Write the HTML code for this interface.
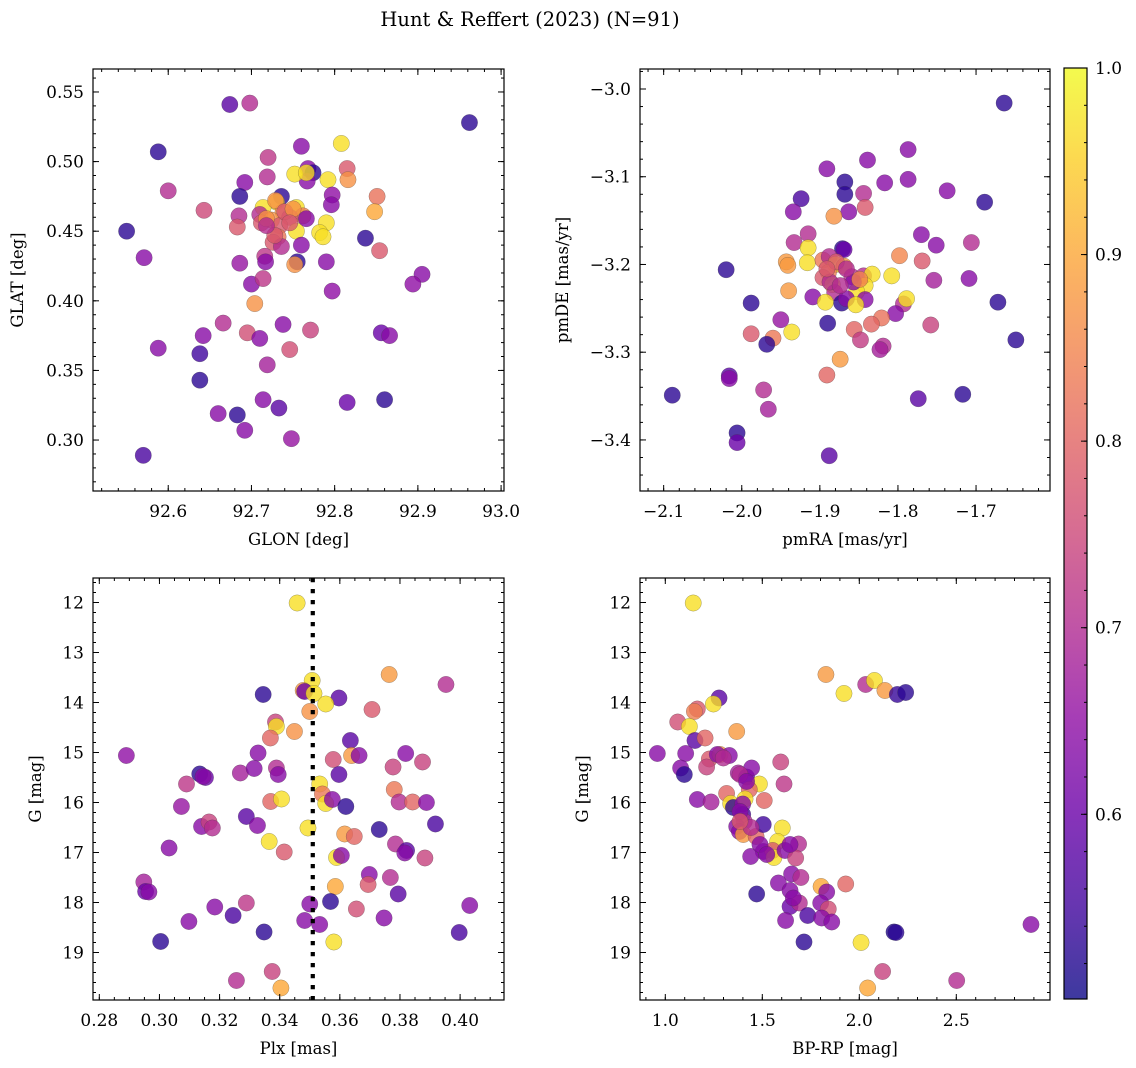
<!DOCTYPE html>
<html><head><meta charset="utf-8"><title>Hunt & Reffert (2023)</title>
<style>
html,body{margin:0;padding:0;background:#fff;}
svg{display:block;font-family:"DejaVu Serif","Liberation Serif",serif;}
</style></head>
<body>
<svg id="fig" width="1136" height="1068" viewBox="0 0 1136 1068" xmlns="http://www.w3.org/2000/svg">
<text x="530" y="26" text-anchor="middle" font-size="19.5">Hunt &amp; Reffert (2023) (N=91)</text>
</svg>
<script>
// ---------- Panel 1: GLON vs GLAT ----------
const glon = [92.674,92.698,92.962,92.588,92.760,92.808,92.720,92.719,92.692,92.768,92.774,92.767,92.752,92.766,92.792,92.815,92.816,92.600,92.686,92.736,92.797,92.796,92.851,92.848,92.730,92.714,92.754,92.710,92.738,92.762,92.746,92.724,92.712,92.685,92.683,92.643,92.734,92.790,92.754,92.782,92.786,92.732,92.726,92.736,92.760,92.550,92.837,92.854,92.571,92.686,92.716,92.717,92.755,92.752,92.790,92.905,92.894,92.700,92.714,92.797,92.704,92.666,92.642,92.695,92.710,92.738,92.771,92.588,92.638,92.746,92.856,92.866,92.719,92.638,92.714,92.733,92.815,92.860,92.660,92.683,92.692,92.748,92.570,92.729,92.740,92.750,92.718,92.746,92.766,92.728,92.718];
const glat = [0.541,0.542,0.528,0.507,0.511,0.513,0.503,0.489,0.485,0.495,0.492,0.486,0.491,0.492,0.487,0.495,0.487,0.479,0.475,0.475,0.476,0.469,0.475,0.464,0.471,0.467,0.467,0.462,0.464,0.461,0.460,0.458,0.456,0.461,0.453,0.465,0.454,0.456,0.450,0.449,0.446,0.446,0.442,0.439,0.440,0.450,0.445,0.436,0.431,0.427,0.432,0.428,0.428,0.426,0.428,0.419,0.412,0.412,0.416,0.407,0.398,0.384,0.375,0.377,0.373,0.383,0.379,0.366,0.362,0.365,0.377,0.375,0.354,0.343,0.329,0.323,0.327,0.329,0.319,0.318,0.307,0.301,0.289,0.472,0.464,0.466,0.459,0.456,0.459,0.447,0.454];
const prob1 = [0.58,0.70,0.53,0.53,0.64,0.97,0.72,0.70,0.64,0.64,0.53,0.64,0.97,0.97,0.97,0.78,0.87,0.70,0.53,0.53,0.65,0.64,0.82,0.90,0.97,0.97,0.97,0.70,0.87,0.84,0.78,0.87,0.78,0.70,0.78,0.75,0.78,0.97,0.97,0.97,0.97,0.83,0.78,0.70,0.64,0.53,0.53,0.78,0.64,0.66,0.72,0.64,0.53,0.87,0.64,0.64,0.65,0.64,0.72,0.65,0.87,0.70,0.64,0.76,0.64,0.64,0.74,0.64,0.55,0.76,0.60,0.64,0.68,0.53,0.64,0.58,0.60,0.53,0.64,0.53,0.64,0.66,0.56,0.87,0.78,0.87,0.87,0.78,0.64,0.78,0.70];
// ---------- Panel 2: pmRA vs pmDE ----------
const pmra = [-1.664,-1.787,-1.839,-1.891,-1.868,-1.817,-1.787,-1.868,-1.844,-1.737,-1.689,-1.924,-1.934,-1.863,-1.842,-1.882,-1.915,-1.933,-1.770,-1.751,-1.706,-1.915,-1.871,-1.869,-2.020,-1.943,-1.941,-1.916,-1.896,-1.888,-1.880,-1.869,-1.798,-1.769,-1.889,-1.896,-1.859,-1.844,-1.833,-1.808,-1.754,-1.709,-1.884,-1.842,-1.940,-1.881,-1.853,-1.988,-1.909,-1.893,-1.872,-1.866,-1.842,-1.854,-1.793,-1.789,-1.672,-1.803,-1.950,-1.890,-1.821,-1.834,-1.856,-1.758,-1.988,-1.936,-1.960,-1.968,-1.848,-1.819,-1.823,-1.649,-1.874,-1.891,-2.016,-2.016,-1.972,-1.966,-2.089,-1.774,-1.717,-2.006,-2.006,-1.888,-1.879,-1.887,-1.857,-1.874,-1.891,-1.849,-1.866];
const pmde = [-3.016,-3.069,-3.081,-3.091,-3.106,-3.107,-3.103,-3.120,-3.119,-3.116,-3.129,-3.125,-3.140,-3.140,-3.135,-3.145,-3.165,-3.175,-3.166,-3.178,-3.175,-3.181,-3.182,-3.183,-3.206,-3.197,-3.201,-3.198,-3.195,-3.191,-3.200,-3.202,-3.190,-3.196,-3.209,-3.215,-3.214,-3.213,-3.211,-3.213,-3.218,-3.216,-3.223,-3.224,-3.230,-3.232,-3.231,-3.244,-3.237,-3.243,-3.244,-3.239,-3.240,-3.246,-3.245,-3.239,-3.243,-3.256,-3.263,-3.267,-3.261,-3.268,-3.274,-3.269,-3.279,-3.277,-3.284,-3.291,-3.286,-3.293,-3.297,-3.286,-3.308,-3.326,-3.327,-3.330,-3.343,-3.365,-3.349,-3.353,-3.348,-3.392,-3.403,-3.418,-3.197,-3.220,-3.220,-3.224,-3.205,-3.217,-3.205];
const prob2 = [0.53,0.64,0.64,0.64,0.53,0.64,0.64,0.53,0.70,0.64,0.53,0.56,0.64,0.64,0.78,0.87,0.70,0.70,0.64,0.64,0.70,0.97,0.53,0.60,0.53,0.88,0.88,0.97,0.83,0.70,0.97,0.88,0.85,0.78,0.83,0.78,0.70,0.70,0.97,0.97,0.68,0.64,0.97,0.97,0.88,0.70,0.97,0.53,0.64,0.97,0.53,0.64,0.64,0.97,0.70,0.97,0.53,0.64,0.66,0.53,0.82,0.80,0.80,0.74,0.78,0.97,0.83,0.53,0.73,0.70,0.68,0.53,0.88,0.80,0.58,0.64,0.70,0.68,0.53,0.58,0.53,0.53,0.60,0.58,0.78,0.70,0.64,0.70,0.78,0.85,0.70];
// ---------- Panel 3: Plx vs G ----------
const plx = [0.3458,0.3764,0.3953,0.3508,0.3478,0.3483,0.3514,0.3345,0.3597,0.3553,0.3500,0.3707,0.3386,0.3389,0.3449,0.3369,0.3635,0.2890,0.3328,0.3639,0.3664,0.3578,0.3819,0.3875,0.3777,0.3269,0.3315,0.3389,0.3395,0.3134,0.3153,0.3597,0.3090,0.3533,0.3542,0.3781,0.3073,0.3370,0.3406,0.3553,0.3575,0.3620,0.3797,0.3842,0.3888,0.3289,0.3326,0.3140,0.3165,0.3176,0.3494,0.3731,0.3918,0.3616,0.3648,0.3032,0.3365,0.3415,0.3785,0.3822,0.3816,0.3883,0.3589,0.3605,0.3698,0.3694,0.3768,0.2948,0.2954,0.2965,0.3585,0.3794,0.3500,0.3569,0.3289,0.3184,0.3655,0.4032,0.3245,0.3747,0.3098,0.3483,0.3533,0.3348,0.3997,0.3004,0.3580,0.3375,0.3256,0.3404,0.3145];
const gmag3 = [12.01,13.44,13.64,13.56,13.76,13.78,13.82,13.84,13.91,14.03,14.18,14.14,14.39,14.48,14.58,14.71,14.76,15.06,15.01,15.06,15.06,15.14,15.02,15.19,15.29,15.41,15.32,15.31,15.44,15.43,15.50,15.44,15.63,15.63,15.83,15.74,16.08,15.98,15.93,16.02,15.94,16.08,15.99,15.99,16.00,16.28,16.46,16.48,16.39,16.51,16.51,16.54,16.43,16.63,16.68,16.91,16.78,16.99,16.83,16.96,17.01,17.11,17.10,17.06,17.44,17.64,17.50,17.59,17.78,17.79,17.68,17.83,18.03,17.98,18.01,18.09,18.13,18.06,18.26,18.31,18.38,18.36,18.44,18.59,18.60,18.78,18.79,19.38,19.56,19.71,15.48];
const prob3 = [0.97,0.88,0.70,0.97,0.88,0.60,0.97,0.53,0.58,0.97,0.87,0.78,0.74,0.97,0.87,0.80,0.58,0.65,0.64,0.88,0.64,0.76,0.64,0.74,0.74,0.68,0.64,0.70,0.64,0.53,0.60,0.58,0.72,0.97,0.83,0.83,0.66,0.80,0.97,0.97,0.64,0.53,0.70,0.80,0.64,0.58,0.64,0.64,0.74,0.70,0.97,0.53,0.56,0.88,0.80,0.64,0.97,0.78,0.70,0.58,0.64,0.74,0.97,0.64,0.64,0.78,0.70,0.68,0.60,0.64,0.90,0.58,0.64,0.53,0.72,0.64,0.76,0.64,0.56,0.64,0.64,0.64,0.64,0.53,0.56,0.53,0.97,0.74,0.70,0.90,0.64];
// ---------- Panel 4: BP-RP vs G ----------
const bprp = [1.144,1.828,2.033,2.078,1.921,2.132,2.196,2.239,1.277,1.248,1.165,1.150,1.064,1.124,1.368,1.153,1.205,0.959,1.105,1.227,1.282,1.330,1.268,1.213,1.595,1.079,1.098,1.376,1.419,1.445,1.385,1.485,1.612,1.165,1.236,1.316,1.433,1.510,1.337,1.351,1.411,1.399,1.399,1.407,1.368,1.382,1.402,1.468,1.505,1.442,1.603,1.579,1.687,1.505,1.553,1.560,1.617,1.440,1.672,1.651,1.699,1.583,1.803,1.832,1.930,1.471,1.643,1.643,1.691,1.801,1.840,1.620,1.734,1.806,1.858,2.179,2.189,2.885,1.715,2.009,2.120,2.502,2.043,1.419,1.385,1.488,1.643,1.660,1.385,1.299,1.523];
const gmag4 = [12.01,13.44,13.64,13.56,13.82,13.76,13.84,13.80,13.91,14.03,14.13,14.18,14.39,14.48,14.58,14.76,14.71,15.02,15.02,15.13,15.04,15.06,15.04,15.29,15.19,15.31,15.44,15.41,15.49,15.31,15.44,15.63,15.63,15.94,15.99,15.82,15.74,15.96,16.02,16.10,15.93,16.03,16.24,16.38,16.48,16.58,16.64,16.68,16.44,16.50,16.51,16.78,16.83,16.98,16.96,17.10,16.96,17.08,17.11,17.43,17.50,17.61,17.68,17.79,17.63,17.83,17.76,18.08,18.01,18.01,18.13,18.36,18.26,18.31,18.39,18.59,18.60,18.44,18.79,18.80,19.38,19.56,19.71,15.58,16.18,16.84,16.84,17.91,16.38,15.11,17.04];
const prob4 = [0.97,0.88,0.70,0.97,0.97,0.88,0.54,0.53,0.58,0.97,0.78,0.84,0.76,0.97,0.88,0.58,0.80,0.64,0.64,0.78,0.88,0.64,0.64,0.74,0.74,0.64,0.53,0.68,0.60,0.64,0.70,0.97,0.72,0.64,0.68,0.80,0.80,0.80,0.97,0.53,0.97,0.64,0.56,0.70,0.64,0.64,0.88,0.80,0.55,0.70,0.97,0.97,0.70,0.64,0.78,0.97,0.64,0.64,0.74,0.64,0.70,0.64,0.90,0.64,0.80,0.53,0.64,0.60,0.70,0.64,0.76,0.64,0.56,0.64,0.64,0.52,0.53,0.64,0.53,0.97,0.74,0.70,0.90,0.64,0.64,0.64,0.64,0.64,0.78,0.70,0.64];
// ---------- axis ticks ----------
const ticks1x = [92.6,92.7,92.8,92.9,93.0];
const ticks1y = [0.30,0.35,0.40,0.45,0.50,0.55];
const ticks2x = [-2.1,-2.0,-1.9,-1.8,-1.7];
const ticks2y = [-3.4,-3.3,-3.2,-3.1,-3.0];
const ticks3x = [0.28,0.30,0.32,0.34,0.36,0.38,0.40];
const ticksG = [12,13,14,15,16,17,18,19];
const ticks4x = [1.0,1.5,2.0,2.5];
const ticksCb = [0.6,0.7,0.8,0.9,1.0];
const plxRef = [0.351];

const NS = "http://www.w3.org/2000/svg";
const svg = document.getElementById('fig');
const FS = 17;
function el(tag, attrs, parent){
  const e = document.createElementNS(NS, tag);
  for (const k in attrs) e.setAttribute(k, attrs[k]);
  (parent||svg).appendChild(e);
  return e;
}
const plasmaStops = ["#0d0887","#41049d","#6a00a8","#8f0da4","#b12a90","#cc4778","#e16462","#f2844b","#fca636","#fcce25","#f0f921"];
function hex2rgb(h){return [parseInt(h.slice(1,3),16),parseInt(h.slice(3,5),16),parseInt(h.slice(5,7),16)];}
const VMIN = 0.501, VMAX = 1.0;
function plasma(v){
  let t = (v - VMIN) / (VMAX - VMIN); t = Math.max(0, Math.min(1, t));
  const s = t * 10, i = Math.min(9, Math.floor(s)), f = s - i;
  const a = hex2rgb(plasmaStops[i]), b = hex2rgb(plasmaStops[i+1]);
  return "rgb(" + a.map((c,k)=>Math.round(c + (b[k]-c)*f)).join(",") + ")";
}
function fmt(v, d){ const s = Math.abs(v).toFixed(d); return (v < 0 ? "\u2212" : "") + s; }
function range(a, b, step){ const r=[]; const n=Math.round((b-a)/step); for(let i=0;i<=n;i++) r.push(a+i*step); return r; }

function panel(cfg){
  const g = el('g', {});
  
  
  const L=cfg.L, T=cfg.T, W=cfg.W, H=cfg.H;
  const sx = v => L + (v - cfg.x0) / (cfg.x1 - cfg.x0) * W;
  const sy = cfg.invertY ? (v => T + (v - cfg.y0) / (cfg.y1 - cfg.y0) * H) : (v => T + H - (v - cfg.y0) / (cfg.y1 - cfg.y0) * H);
  const pg = el('g', {}, g);
  
  
  const clip = el('clipPath', {id: cfg.name + '-clip'}, g);
  el('rect', {x:L, y:T, width:W, height:H}, clip);
  pg.setAttribute('clip-path', 'url(#' + cfg.name + '-clip)');
  for (let i = 0; i < cfg.xs.length; i++){
    const c = el('circle', {cx: sx(cfg.xs[i]), cy: sy(cfg.ys[i]), r: 8.2, fill: plasma(cfg.cs[i]), 'fill-opacity': 0.8, stroke: 'rgba(60,60,60,0.45)', 'stroke-width': 0.5}, pg);
    
    
  }
  if (cfg.vline){
    for (const v of cfg.vline){
      const ln = el('line', {x1: sx(v), x2: sx(v), y1: T, y2: T+H, stroke: '#000', 'stroke-width': 4.2, 'stroke-dasharray': '4.2 6.8'}, g);
      
      
    }
  }
  const fr = el('rect', {x:L, y:T, width:W, height:H, fill:'none', stroke:'#000', 'stroke-width':1.2}, g);
  
  
  const tk = el('g', {stroke:'#000', 'stroke-width':1}, g);
  
  
  const inX = v => sx(v) >= L-0.5 && sx(v) <= L+W+0.5;
  const inY = v => sy(v) >= T-0.5 && sy(v) <= T+H+0.5;
  for (const v of range(cfg.xmin0, cfg.xmin1, cfg.xminStep)) if (inX(v)){
    const x = sx(v); el('line',{x1:x,x2:x,y1:T+H,y2:T+H-3},tk); el('line',{x1:x,x2:x,y1:T,y2:T+3},tk);
  }
  for (const v of range(cfg.ymin0, cfg.ymin1, cfg.yminStep)) if (inY(v)){
    const y = sy(v); el('line',{x1:L,x2:L+3,y1:y,y2:y},tk); el('line',{x1:L+W,x2:L+W-3,y1:y,y2:y},tk);
  }
  const lbl = el('g', {'font-size': FS, fill: '#000'}, g);
  
  
  for (const v of cfg.xticks){
    const x = sx(v);
    el('line',{x1:x,x2:x,y1:T+H,y2:T+H-6},tk); el('line',{x1:x,x2:x,y1:T,y2:T+6},tk);
    const t = el('text', {x:x, y:T+H+26, 'text-anchor':'middle'}, lbl); t.textContent = fmt(v, cfg.xd);
  }
  for (const v of cfg.yticks){
    const y = sy(v);
    el('line',{x1:L,x2:L+6,y1:y,y2:y},tk); el('line',{x1:L+W,x2:L+W-6,y1:y,y2:y},tk);
    const t = el('text', {x:L-9, y:y+6, 'text-anchor':'end'}, lbl); t.textContent = fmt(v, cfg.yd);
  }
  const xl = el('text', {x: L+W/2, y: T+H+54, 'text-anchor':'middle', 'font-size': 16.5}, g);
  xl.textContent = cfg.xlabel;
  
  
  const yl = el('text', {x: 0, y: 0, 'text-anchor':'middle', 'font-size': 16.5, transform: 'translate(' + cfg.ylx + ',' + (T+H/2) + ') rotate(-90)'}, g);
  yl.textContent = cfg.ylabel;
  
  
}

panel({name:'panel-glon-glat', L:93, T:69, W:411, H:422, x0:92.5096, x1:93.0035, y0:0.2634, y1:0.5665,
  xs:glon, ys:glat, cs:prob1, xticks:ticks1x, yticks:ticks1y, xd:1, yd:2,
  xmin0:92.5, xmin1:93.0, xminStep:0.02, ymin0:0.26, ymin1:0.57, yminStep:0.01,
  xlabel:'GLON [deg]', ylabel:'GLAT [deg]', ylx:23});
panel({name:'panel-pmra-pmde', L:640, T:69, W:410, H:422, x0:-2.1303, x1:-1.6053, y0:-3.4582, y1:-2.9772,
  xs:pmra, ys:pmde, cs:prob2, xticks:ticks2x, yticks:ticks2y, xd:1, yd:1,
  xmin0:-2.14, xmin1:-1.60, xminStep:0.02, ymin0:-3.46, ymin1:-2.98, yminStep:0.02,
  xlabel:'pmRA [mas/yr]', ylabel:'pmDE [mas/yr]', ylx:568});
panel({name:'panel-plx-g', L:93, T:578, W:411, H:422, x0:0.2779, x1:0.4146, y0:11.51, y1:19.95, invertY:true,
  xs:plx, ys:gmag3, cs:prob3, xticks:ticks3x, yticks:ticksG, xd:2, yd:0, vline:plxRef,
  xmin0:0.275, xmin1:0.415, xminStep:0.005, ymin0:11.4, ymin1:20.0, yminStep:0.2,
  xlabel:'Plx [mas]', ylabel:'G [mag]', ylx:41});
panel({name:'panel-bprp-g', L:640, T:578, W:410, H:422, x0:0.8696, x1:2.9830, y0:11.51, y1:19.95, invertY:true,
  xs:bprp, ys:gmag4, cs:prob4, xticks:ticks4x, yticks:ticksG, xd:1, yd:0,
  xmin0:0.9, xmin1:3.0, xminStep:0.1, ymin0:11.4, ymin1:20.0, yminStep:0.2,
  xlabel:'BP-RP [mag]', ylabel:'G [mag]', ylx:588});

// ---------- colorbar ----------
(function(){
  const g = el('g', {});
  
  
  const L=1064, T=68, W=23, H=931;
  const defs = el('defs', {}, g);
  const grad = el('linearGradient', {id:'plasmaGrad', x1:0, y1:1, x2:0, y2:0}, defs);
  for (let i = 0; i <= 20; i++){
    const v = VMIN + (VMAX - VMIN) * i / 20;
    el('stop', {offset: (i/20), 'stop-color': plasma(v)}, grad);
  }
  el('rect', {x:L, y:T, width:W, height:H, fill:'url(#plasmaGrad)', 'fill-opacity':0.8}, g);
  el('rect', {x:L, y:T, width:W, height:H, fill:'none', stroke:'#000', 'stroke-width':1.2}, g);
  const sy = v => T + H - (v - VMIN) / (VMAX - VMIN) * H;
  const tk = el('g', {stroke:'#000', 'stroke-width':1}, g);
  for (const v of range(0.52, 1.0, 0.02)){ const y = sy(v); el('line',{x1:L+W,x2:L+W-3,y1:y,y2:y},tk); }
  for (const v of ticksCb){
    const y = sy(v);
    el('line',{x1:L+W,x2:L+W-6,y1:y,y2:y},tk);
    const t = el('text', {x:L+W+8, y:y+6, 'font-size':FS}, g);
    t.textContent = v.toFixed(1);
    
    
  }
})();
</script>
</body></html>
